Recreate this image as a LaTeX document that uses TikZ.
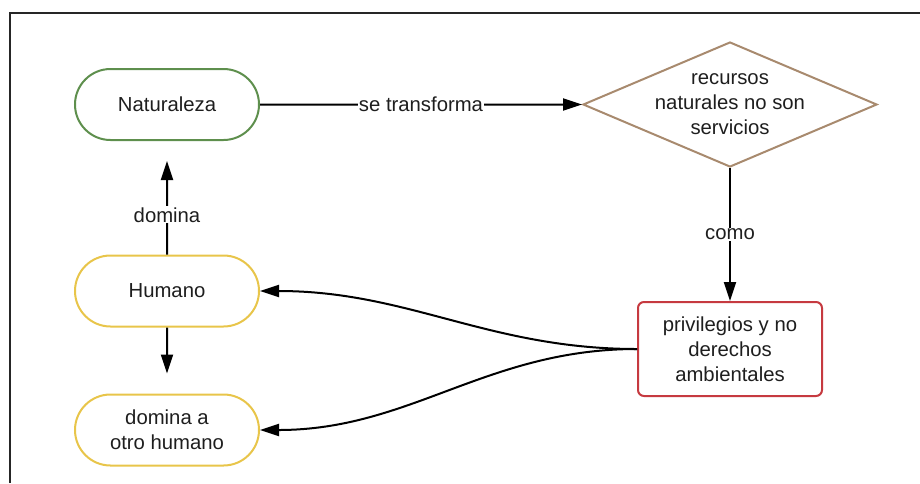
\documentclass[tikz,border=0pt]{standalone}
\usepackage{fontspec}
\setmainfont{Liberation Sans}
\usetikzlibrary{arrows.meta,shapes.geometric,shapes.misc,positioning}
\tikzset{>={Triangle[width=12pt,length=19pt]}}
\definecolor{natgreen}{HTML}{5E8F4D}
\definecolor{humyellow}{HTML}{E8C54A}
\definecolor{recbrown}{HTML}{A88A6E}
\definecolor{prired}{HTML}{C63A40}
\definecolor{textgrey}{HTML}{1E1E1E}
\definecolor{framegrey}{HTML}{262626}

\begin{document}
\begin{tikzpicture}[x=1pt, y=-1pt]
  \tikzstyle{every node}=[font=\fontsize{20.3}{25}\selectfont, text=textgrey, align=center]
  \tikzstyle{pill}=[rounded rectangle, line width=2pt, minimum width=184pt, minimum height=71pt, inner sep=0pt]
  \tikzstyle{lbl}=[fill=white, inner sep=1pt]
  \tikzstyle{link}=[->, line width=2pt, draw=black]
  \useasboundingbox (0,0) rectangle (920,483);
  \draw [line width=2pt, draw=framegrey] (10,483) -- (10,13) -- (920,13);

  \node(nat) at (167,104.5) [pill, draw=natgreen]  {Naturaleza};
  \node(hum) at (167,291)   [pill, draw=humyellow] {Humano};
  \node(dom) at (167,430)   [pill, draw=humyellow] {domina a\\otro humano};
  \node(rec) at (730,104.5) [diamond, aspect=2.35, draw=recbrown, line width=2pt,
    inner xsep=0pt, inner ysep=-8pt, minimum width=294pt, minimum height=125pt]
    {recursos\\naturales no son\\servicios};
  \node(pri) at (730,349)   [rectangle, rounded corners=6pt, draw=prired, line width=2pt,
    minimum width=184pt, minimum height=94pt] {privilegios y no\\derechos\\ambientales};

  \draw [link] (nat) -- node [lbl] {se transforma} (rec);
  \draw [link] (rec) -- node [lbl] {como} (pri);
  \draw [link, shorten >=20pt] (hum) -- node [lbl, pos=0.35] {domina} (nat);
  \draw [link, shorten >=20pt] (hum) -- (dom);
  \draw [link] (pri.west) to [out=180, in=0] (hum.east);
  \draw [link] (pri.west) to [out=180, in=0] (dom.east);
\end{tikzpicture}
\end{document}
